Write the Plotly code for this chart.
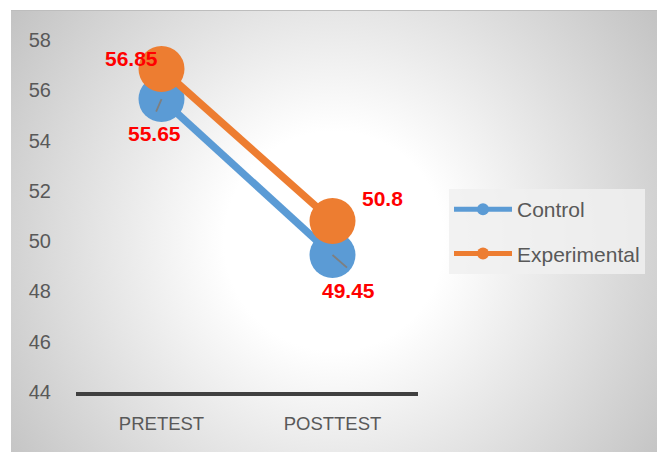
import base64
import plotly.graph_objects as go

# ---- data -------------------------------------------------------------
tests = ["PRETEST", "POSTTEST"]
control = [55.65, 49.45]
experimental = [56.85, 50.8]
y_ticks = [44, 46, 48, 50, 52, 54, 56, 58]

# ---- figure geometry --------------------------------------------------
W, H = 657, 452
M_L, M_R, M_T, M_B = 76, 239, 40, 60
PLOT_W = W - M_L - M_R
PLOT_H = H - M_T - M_B
CARD_X, CARD_Y = 11, 10          # top-left corner of the grey chart card

BLUE = "#5B9BD5"
ORANGE = "#ED7D31"
TEXT = "#595959"
FONT = "Liberation Sans, Arial, sans-serif"

# radial white-to-grey fill for the chart card
card_w, card_h = W - CARD_X, H - CARD_Y
svg = f"""<svg xmlns='http://www.w3.org/2000/svg' width='{card_w}' height='{card_h}'>
<defs><radialGradient id='g' gradientUnits='userSpaceOnUse' cx='{card_w/2}' cy='{card_h/2 + 10}' r='{((card_w/2)**2+(card_h/2)**2)**0.5}'>
<stop offset='0' stop-color='#ffffff'/><stop offset='0.28' stop-color='#ffffff'/>
<stop offset='1' stop-color='#c4c4c4'/></radialGradient></defs>
<rect width='100%' height='100%' fill='url(#g)'/>
<line x1='0' y1='0.5' x2='{card_w}' y2='0.5' stroke='#bdbdbd' stroke-width='1'/>
</svg>"""
svg_uri = "data:image/svg+xml;base64," + base64.b64encode(svg.encode()).decode()

fig = go.Figure()
for name, vals, color, grp in [("Control", control, BLUE, "a"),
                               ("Experimental", experimental, ORANGE, "b")]:
    fig.add_trace(go.Scatter(
        x=tests, y=vals, name=name, mode="lines+markers",
        line=dict(color=color, width=7.5),
        marker=dict(color=color, size=46, line=dict(width=0)),
        legendgroup=grp,
    ))

# data labels (value text offset from each marker)
label_offsets = {
    ("Experimental", 0): (-30, 10),
    ("Control", 0): (-7, -34),
    ("Experimental", 1): (50, 23),
    ("Control", 1): (16, -36),
}
series = {"Control": control, "Experimental": experimental}
for (name, i), (dx, dy) in label_offsets.items():
    v = series[name][i]
    fig.add_annotation(x=tests[i], y=v, text=f"<b>{v:g}</b>", showarrow=False,
                       xshift=dx, yshift=dy,
                       font=dict(family=FONT, size=21, color="#FF0000"))

# short leader lines on the Control markers
for i, (ax, ay) in enumerate([(-6, 14), (16, 14)]):
    fig.add_annotation(x=tests[i], y=control[i], text="", showarrow=True,
                       arrowhead=0, arrowwidth=1.8, arrowcolor="#7f7f7f",
                       ax=ax, ay=ay, standoff=0)

fig.add_layout_image(dict(
    source=svg_uri, xref="paper", yref="paper",
    x=(CARD_X - M_L) / PLOT_W, y=(H - M_B - CARD_Y) / PLOT_H,
    sizex=card_w / PLOT_W, sizey=card_h / PLOT_H,
    xanchor="left", yanchor="top", sizing="stretch", layer="below",
))

fig.update_layout(
    width=W, height=H,
    margin=dict(l=M_L, r=M_R, t=M_T, b=M_B, pad=0, autoexpand=False),
    paper_bgcolor="white", plot_bgcolor="rgba(0,0,0,0)",
    showlegend=True,
    legend=dict(
        x=(449 - M_L) / PLOT_W, y=(H - M_B - 189) / PLOT_H,
        xanchor="left", yanchor="top",
        bgcolor="rgba(240,240,240,0.85)", borderwidth=0,
        font=dict(family=FONT, size=21, color=TEXT),
        itemsizing="constant", itemwidth=58,
        traceorder="grouped", tracegroupgap=14,
    ),
    xaxis=dict(
        range=[-0.5, 1.5],
        showgrid=False, zeroline=False, showline=True,
        linecolor="#404040", linewidth=4,
        tickfont=dict(family=FONT, size=18.5, color=TEXT),
        ticks="outside", ticklen=12, tickcolor="rgba(0,0,0,0)",
    ),
    yaxis=dict(
        range=[44, 58], tickvals=y_ticks,
        showgrid=False, zeroline=False, showline=False,
        tickfont=dict(family=FONT, size=20, color=TEXT),
        ticks="outside", ticklen=20, tickcolor="rgba(0,0,0,0)",
    ),
)

fig.write_html("out.html")
